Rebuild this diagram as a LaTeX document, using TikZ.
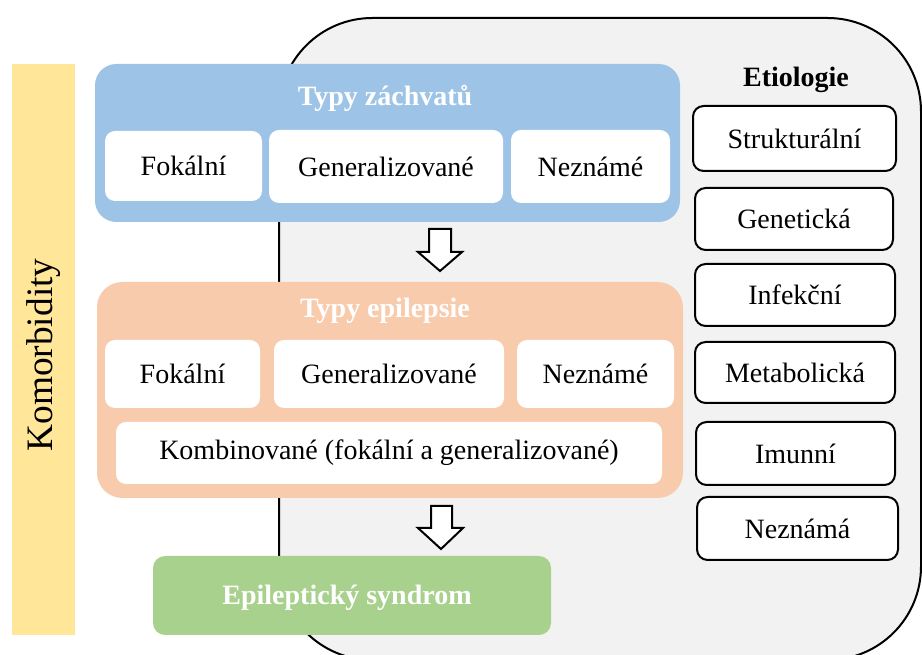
\documentclass[tikz,border=0pt]{standalone}
\usepackage{fontspec}
\setmainfont{Liberation Serif}
\definecolor{cyellow}{HTML}{FFE699}
\definecolor{cblue}{HTML}{9DC3E6}
\definecolor{cpeach}{HTML}{F8CBAD}
\definecolor{cgreen}{HTML}{A9D18E}
\definecolor{cgray}{HTML}{F2F2F2}
\newcommand{\pxu}{0.75pt}
\begin{document}
\begin{tikzpicture}[x=0.75pt,y=-0.75pt,
  base/.style={inner sep=0pt, outer sep=0pt, font=\fontsize{21}{25}\selectfont, text=black},
  wbox/.style={base, fill=white, rounded corners=7.5pt},
  ebox/.style={base, fill=white, draw=black, line width=1.5pt, rounded corners=8pt},
  titletext/.style={base, text=white, font=\fontsize{21}{25}\selectfont\bfseries},
  hollow/.style={draw=black, fill=white, line width=1.5pt, line join=miter}]
\useasboundingbox (0,0) rectangle (922,655);
\clip (0,0) rectangle (922,655);
% big grey container
\draw[fill=cgray, line width=1.5pt, rounded corners=70pt] (279,18) rectangle (921,660);
% comorbidity bar
\node[base, fill=cyellow, minimum width={63*\pxu}, minimum height={571*\pxu}] (kom) at (43.5,349.5) {};
\node[base, rotate=90, font=\fontsize{28}{32}\selectfont] (komt) at (44,355) {Komorbidity};
% seizure types panel
\node[base, fill=cblue, rounded corners=16pt, minimum width={585*\pxu}, minimum height={158*\pxu}] (pz) at (387.5,143) {};
\node[titletext] (pzt) at (385,98) {Typy záchvatů};
\node[wbox, minimum width={157*\pxu}, minimum height={70*\pxu}] (zf) at (183.5,166) {Fokální};
\node[wbox, minimum width={234*\pxu}, minimum height={73*\pxu}] (zg) at (386,166.5) {Generalizované};
\node[wbox, minimum width={159*\pxu}, minimum height={73*\pxu}] (zn) at (590.5,166.5) {Neznámé};
% epilepsy types panel
\node[base, fill=cpeach, rounded corners=19pt, minimum width={586*\pxu}, minimum height={216*\pxu}] (pe) at (390,390) {};
\node[titletext] (pet) at (385,311) {Typy epilepsie};
\node[wbox, minimum width={155*\pxu}, minimum height={68*\pxu}] (ef) at (182.5,374) {\raisebox{-5pt}{Fokální}};
\node[wbox, minimum width={230*\pxu}, minimum height={68*\pxu}] (eg) at (389,374) {Generalizované};
\node[wbox, minimum width={157*\pxu}, minimum height={68*\pxu}] (en) at (595.5,374) {\raisebox{-3pt}{Neznámé}};
\node[wbox, minimum width={546*\pxu}, minimum height={62*\pxu}] (ek) at (389,453) {Kombinované (fokální a generalizované)};
% syndrome
\node[base, fill=cgreen, rounded corners=9pt, minimum width={398*\pxu}, minimum height={79*\pxu}] (sy) at (352,595.5) {};
\node[titletext] (syt) at (347,598) {Epileptický syndrom};
% hollow arrows
\draw[hollow] (429,229) -- (451,229) -- (451,252) -- (462,252) -- (440,271) -- (418,252) -- (429,252) -- cycle;
\draw[hollow] (431,506) -- (452,506) -- (452,528) -- (463,528) -- (441,549) -- (418,528) -- (431,528) -- cycle;
% etiology
\node[base, font=\fontsize{21}{25}\selectfont\bfseries] (et) at (796,80) {Etiologie};
\node[ebox, minimum width={203*\pxu}, minimum height={65*\pxu}] (e1) at (794.5,138.5) {Strukturální};
\node[ebox, minimum width={198*\pxu}, minimum height={62*\pxu}] (e2) at (794,219) {Genetická};
\node[ebox, minimum width={200*\pxu}, minimum height={62*\pxu}] (e3) at (795,295) {Infekční};
\node[ebox, minimum width={200*\pxu}, minimum height={61*\pxu}] (e4) at (795,372.5) {Metabolická};
\node[ebox, minimum width={199*\pxu}, minimum height={63*\pxu}] (e5) at (795.5,453.5) {Imunní};
\node[ebox, minimum width={201*\pxu}, minimum height={63*\pxu}] (e6) at (797.5,528.5) {Neznámá};
\end{tikzpicture}
\end{document}
